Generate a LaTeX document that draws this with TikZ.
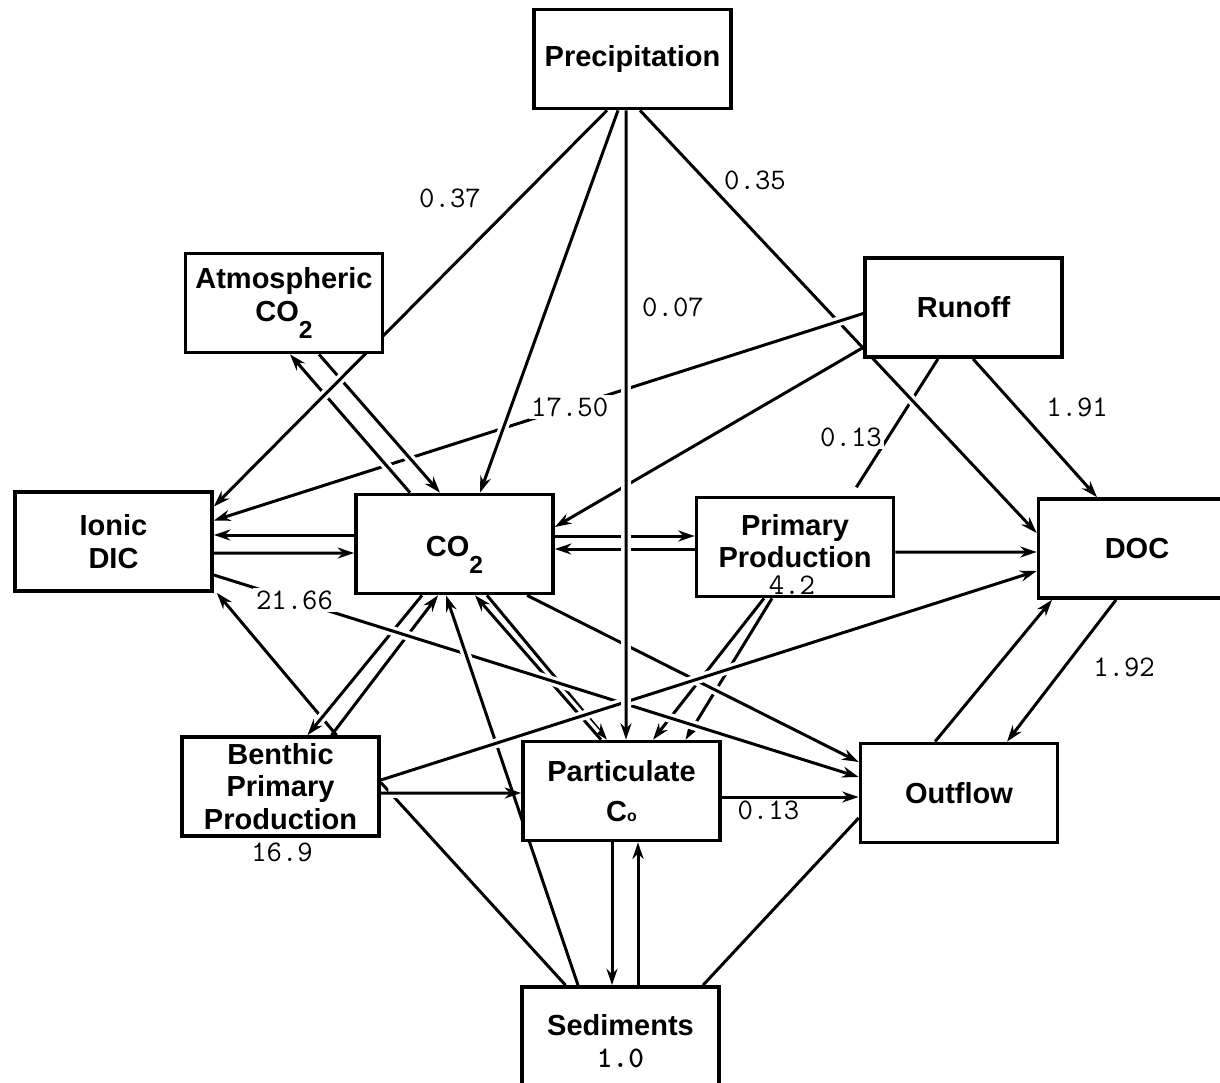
\documentclass[tikz,border=0pt]{standalone}
\usepackage{fontspec}
\setsansfont{Liberation Sans}
\usetikzlibrary{arrows.meta,calc}
\pgfdeclarelayer{edges}
\pgfsetlayers{edges,main}

\newcommand{\subtwo}{\raisebox{-1.1ex}{\fontsize{14}{14}\selectfont 2}}

\begin{document}
\begin{tikzpicture}[x=0.2mm, y=-0.2mm]
  \tikzset{
    box/.style={draw, fill=white, line width=2.1pt, inner sep=0pt, minimum width=39.4mm, minimum height=19.8mm, align=center, font=\sffamily\bfseries\fontsize{16.5}{18.5}\selectfont},
    link/.style={line width=1.7pt, preaction={draw=white, line width=5.5pt, -, shorten <=1.5mm, shorten >=3.5mm}},
    flow/.style={link, -{Stealth[length=3.3mm, width=2.2mm]}},
    num/.style={font=\ttfamily\fontsize{17}{20}\selectfont, inner sep=1.5pt}
  }

  \useasboundingbox (0,0) rectangle (1220,1082);

  % Compartimentos
  \node[box] (prec) at (632.5,59) {Precipitation};
  \node[box] (atm) at (284,303) {Atmospheric\\CO\subtwo};
  \node[box] (runoff) at (963.5,307.5) {Runoff};
  \node[box] (dic) at (113.5,541.5) {Ionic\\DIC};
  \node[box] (co2) at (454.5,544) {\rule{0pt}{24pt}CO\subtwo};
  \node[box] (pp) at (795,547) {Primary\\Production\rule[-2.5mm]{0pt}{0pt}};
  \node[box] (doc) at (1137,548.5) {DOC};
  \node[box] (benthic) at (280.5,786.5) {Benthic\\Primary\\Production};
  \node[box] (part) at (621.5,791) {Particulate\\[1.5mm]C{\small o}};
  \node[box] (outflow) at (959,793) {Outflow};
  \node[box, minimum height=21.6mm] (sed) at (620.5,1041) {Sediments\\{\ttfamily\fontsize{17}{20}\selectfont 1.0}};

  % Valores
  \node[num] (l037) at (450,198) {0.37};
  \node[num] (l035) at (755,180) {0.35};
  \node[num] (l007) at (673,307) {0.07};
  \node[num] (l191) at (1077,407) {1.91};
  \node[num, fill=white] (l013a) at (851,437) {0.13};
  \node[num] (l42) at (792,585) {4.2};
  \node[num] (l169) at (282,852) {16.9};
  \node[num] (l192) at (1124,667) {1.92};

  % Flujos: los trazos posteriores cortan a los anteriores
  \begin{pgfonlayer}{edges}
    \draw[link, shorten >=2mm] ($(runoff.south)+(-25.5,0)$) -- ($(pp.north)+(56,0)$);
    \draw[flow] ($(prec.south)+(7.5,0)$) -- ($(doc.west)+(0,-15.5)$);
    \draw[flow] ($(runoff.west)+(0,6)$) -- node[num, fill=white, pos=0.452] (l1750) {17.50} ($(dic.east)+(0,-21)$);
    \draw[flow] ($(runoff.west)+(0,40)$) -- ($(co2.east)+(0,-17)$);
    \draw[flow] ($(pp.south)+(-31,0)$) -- ($(part.north)+(31.5,0)$);
    \draw[flow] ($(pp.south)+(-23,0)$) -- ($(part.north)+(64,0)$);
    \draw[flow] ($(co2.south)+(32.5,0)$) -- ($(part.north)+(-14.5,0)$);
    \draw[flow] ($(part.north)+(-20.5,0)$) -- ($(co2.south)+(20.5,0)$);
    \draw[flow] ($(benthic.north)+(56,0)$) -- ($(dic.south east)+(3,0)$);
    \draw[flow] ($(co2.south)+(-32.5,0)$) -- ($(benthic.north)+(27,0)$);
    \draw[flow] ($(benthic.north)+(51,0)$) -- ($(co2.south)+(-16.5,0)$);
    \draw[link] ($(benthic.east)+(0,-4)$) -- ($(sed.north)+(-55,0)$);
    \draw[flow] ($(dic.east)+(0,33.5)$) -- node[num, fill=white, pos=0.125] (l2166) {21.66} ($(outflow.west)+(0,-16)$);
    \draw[flow] ($(co2.south)+(72.5,0)$) -- ($(outflow.west)+(0,-31)$);
    \draw[flow] ($(sed.north)+(-42.5,0)$) -- ($(co2.south)+(-8.5,0)$);
    \draw[flow] ($(benthic.east)+(0,-6.5)$) -- ($(doc.west)+(0,22.5)$);
    \draw[flow] ($(benthic.east)+(0,6.5)$) -- ($(part.west)+(0,2)$);
    \draw[flow] ($(co2.east)+(0,-8)$) -- ($(pp.west)+(0,-11)$);
    \draw[flow] ($(pp.west)+(0,2)$) -- ($(co2.east)+(0,5)$);
    \draw[flow] ($(prec.south)+(-6.5,0)$) -- ($(part.north)+(4.5,0)$);
    \draw[flow] ($(atm.south)+(35,0)$) -- ($(co2.north)+(-14.5,0)$);
    \draw[flow] ($(co2.north)+(-44.5,0)$) -- ($(atm.south)+(6,0)$);
    \draw[flow] ($(prec.south)+(-25.5,0)$) -- ($(dic.east)+(0,-35)$);
    \draw[flow] ($(prec.south)+(-14.5,0)$) -- ($(co2.north)+(25.5,0)$);
    \draw[flow] ($(runoff.south)+(9.5,0)$) -- ($(doc.north)+(-40,0)$);
    \draw[flow] ($(co2.west)+(0,-9)$) -- ($(dic.east)+(0,-6.5)$);
    \draw[flow] ($(dic.east)+(0,11.5)$) -- ($(co2.west)+(0,9)$);
    \draw[flow] ($(pp.east)+(0,5)$) -- ($(doc.west)+(0,3.5)$);
    \draw[flow] ($(part.east)+(0,6)$) -- node[num, below, pos=0.34] (l013b) {0.13} ($(outflow.west)+(0,4)$);
    \draw[flow] ($(part.south)+(-9.5,0)$) -- ($(sed.north)+(-8.5,0)$);
    \draw[flow] ($(sed.north)+(17.5,0)$) -- ($(part.south)+(16.5,0)$);
    \draw[link] ($(sed.north)+(82.5,0)$) -- ($(outflow.west)+(0,25)$);
    \draw[flow] ($(outflow.north)+(-24,0)$) -- ($(doc.south)+(-85,0)$);
    \draw[flow] ($(doc.south)+(-21,0)$) -- ($(outflow.north)+(48,0)$);
  \end{pgfonlayer}
\end{tikzpicture}
\end{document}
